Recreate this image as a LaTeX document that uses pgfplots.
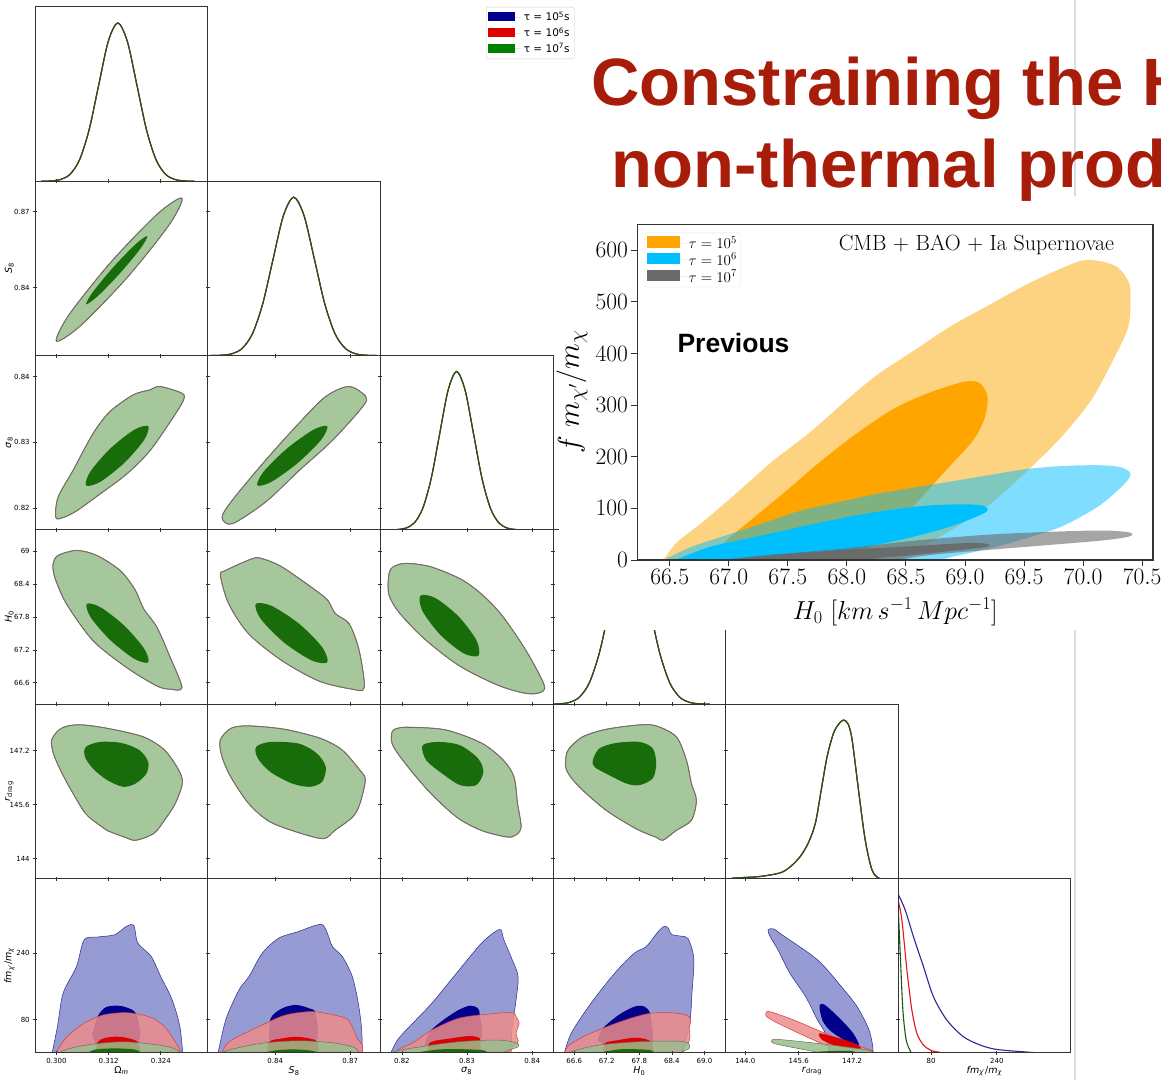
\RequirePackage{fix-cm}
\documentclass[border=0pt]{standalone}
\usepackage{fontspec}
\usepackage{pgfplots}
\usepackage{pgfplotstable}
\pgfplotsset{compat=1.18}
\newfontfamily\dvs{DejaVu Sans}
\newfontfamily\lib{Liberation Sans}
\definecolor{bout}{RGB}{145,150,210}
\definecolor{bline}{RGB}{40,40,140}
\definecolor{bin}{RGB}{0,0,140}
\definecolor{rout}{RGB}{238,140,140}
\definecolor{rline}{RGB}{215,60,60}
\definecolor{rin}{RGB}{220,0,0}
\definecolor{gout}{RGB}{155,190,143}
\definecolor{goutA}{RGB}{165,199,155}
\definecolor{gline}{RGB}{95,115,85}
\definecolor{gin}{RGB}{25,108,10}
\definecolor{lblue}{RGB}{40,40,150}
\definecolor{lred}{RGB}{230,20,20}
\definecolor{lgreen}{RGB}{20,95,20}
\definecolor{orng}{RGB}{255,165,0}
\definecolor{orngl}{RGB}{253,210,128}
\definecolor{dsb}{RGB}{0,191,255}
\definecolor{dgray}{RGB}{105,105,105}
\definecolor{titlered}{RGB}{168,28,10}
\newcommand\tickf{\dvs\fontsize{7}{8}\selectfont}
\newcommand\labf{\dvs\fontsize{9.5}{11}\selectfont}
\pgfplotsset{
 panel/.style={width=172.6pt,height=174.3pt,scale only axis,anchor=south west,
   axis line style={black!80,line width=1pt},
   tick style={black!80,line width=0.7pt}, major tick length=4pt, tick align=center,
   xtick pos=bottom, ytick pos=left, xticklabels={}, yticklabels={},
   tick label style={font=\tickf}, label style={font=\labf},
   xlabel style={at={(axis description cs:0.5,-0.104)},anchor=center},
   ylabel style={at={(axis description cs:-0.15,0.5)},anchor=center},
   axis on top, clip=true},
 diag/.style={panel,ymin=0,ymax=1.1},
 xOm/.style={xmin=0.2951,xmax=0.3348,xtick={0.300,0.312,0.324}},
 xS/.style={xmin=0.8130,xmax=0.8821,xtick={0.84,0.87}},
 xs/.style={xmin=0.8167,xmax=0.8432,xtick={0.82,0.83,0.84}},
 xH/.style={xmin=66.21,xmax=69.39,xtick={66.6,67.2,67.8,68.4,69.0}},
 xr/.style={xmin=143.41,xmax=148.58,xtick={144.0,145.6,147.2}},
 xf/.style={xmin=0,xmax=420,xtick={80,240}},
 yS/.style={ymin=0.8130,ymax=0.8821,ytick={0.84,0.87}},
 ys/.style={ymin=0.8167,ymax=0.8432,ytick={0.82,0.83,0.84}},
 yH/.style={ymin=66.21,ymax=69.39,ytick={66.6,67.2,67.8,68.4,69.0}},
 yr/.style={ymin=143.41,ymax=148.58,ytick={144.0,145.6,147.2}},
 yf/.style={ymin=0,ymax=420,ytick={80,240}},
 ln1/.style={color=lblue,line width=1.1pt,smooth},
 ln2/.style={color=lred,line width=1.1pt,smooth},
 ln3/.style={color=lgreen,line width=1.1pt,smooth},
 bO/.style={fill=bout,fill opacity=0.9,draw=bline,line width=1.4pt,draw opacity=0.7},
 rO/.style={fill=rout,fill opacity=0.85,draw=rline,line width=1.0pt,draw opacity=0.7},
 gOa/.style={fill=goutA,draw=gline,line width=0.6pt},
 bO5/.style={fill=bout,fill opacity=0.95,draw=bline,line width=0.5pt},
 rO5/.style={fill=rout,fill opacity=0.85,draw=rline,line width=0.5pt},
 gO5/.style={fill=gout,fill opacity=0.85,draw=gline,line width=0.5pt},
 bI/.style={fill=bin,draw=none},
 rI/.style={fill=rin,draw=none},
 gI/.style={fill=gin,draw=none},
}
\newcommand\tri[2]{%
 \addplot[bO,smooth cycle] table {#1};
 \addplot[bI,smooth cycle] table {#2};
 \addplot[rO,smooth cycle] table {#1};
 \addplot[rI,smooth cycle] table {#2};
 \addplot[gOa,smooth cycle] table {#1};
 \addplot[gI,smooth cycle] table {#2};}
\newcommand\one[1]{%
 \addplot[ln1,forget plot] table {#1};
 \addplot[ln2,forget plot] table {#1};
 \addplot[ln3,forget plot] table {#1};}
% ---------- 1D marginals
\pgfplotstableread{
x y
0.2965 0.0003
0.2987 0.0022
0.3009 0.0111
0.3031 0.0439
0.3053 0.1353
0.3075 0.3247
0.3097 0.6065
0.3119 0.8825
0.3141 1.0
0.3163 0.8825
0.3185 0.6065
0.3207 0.3247
0.3229 0.1353
0.3251 0.0439
0.3273 0.0111
0.3295 0.0022
0.3317 0.0003
}\dOm
\pgfplotstableread{
x y
0.8142 0.0003
0.81835 0.0022
0.8225 0.0111
0.82665 0.0439
0.8308 0.1353
0.83495 0.3247
0.8391 0.6065
0.84325 0.8825
0.8474 1.0
0.85155 0.8825
0.8557 0.6065
0.85985 0.3247
0.8640 0.1353
0.86815 0.0439
0.8723 0.0111
0.87645 0.0022
0.8806 0.0003
}\dS
\pgfplotstableread{
x y
0.8180 0.0003
0.8193 0.0022
0.8206 0.0111
0.8219 0.0439
0.8232 0.1353
0.8245 0.3247
0.8258 0.6065
0.8271 0.8825
0.8284 1.0
0.8297 0.8825
0.8310 0.6065
0.8323 0.3247
0.8336 0.1353
0.8349 0.0439
0.8362 0.0111
0.8375 0.0022
0.8388 0.0003
}\ds
\pgfplotstableread{
x y
66.14 0.0003
66.325 0.0022
66.51 0.0111
66.695 0.0439
66.88 0.1353
67.065 0.3247
67.25 0.6065
67.435 0.8825
67.62 1.0
67.805 0.8825
67.99 0.6065
68.175 0.3247
68.36 0.1353
68.545 0.0439
68.73 0.0111
68.915 0.0022
69.10 0.0003
}\dH
\pgfplotstableread{
x y
143.60 0.002
143.94 0.006
144.45 0.013
145.05 0.036
145.35 0.075
145.65 0.140
145.89 0.226
146.10 0.350
146.28 0.566
146.45 0.769
146.64 0.916
146.80 0.975
146.94 1.000
147.08 0.975
147.20 0.874
147.39 0.559
147.59 0.245
147.79 0.057
147.99 0.003
148.20 0.000
}\dr
% ---------- 2D contours (x y)
\pgfplotstableread{
x y
0.32882 0.87536
0.32594 0.86504
0.31632 0.84419
0.30558 0.82503
0.30002 0.81878
0.30290 0.82910
0.31252 0.84995
0.32326 0.86911
}\oSOm
\pgfplotstableread{
x y
0.32089 0.86041
0.31938 0.85561
0.31463 0.84569
0.30942 0.83646
0.30681 0.83333
0.30833 0.83813
0.31307 0.84805
0.31828 0.85728
}\iSOm
\pgfplotstableread{
x y
0.29988 0.81862
0.30041 0.82167
0.30386 0.82575
0.30846 0.83135
0.31230 0.83465
0.31766 0.83720
0.32150 0.83796
0.32380 0.83847
0.32880 0.83746
0.32916 0.83644
0.32686 0.83389
0.32150 0.82880
0.31615 0.82524
0.31000 0.82219
0.30465 0.81964
0.30156 0.81862
}\osOm
\pgfplotstableread{
x y
0.32111 0.83247
0.32014 0.83036
0.31554 0.82685
0.31002 0.82399
0.30681 0.82346
0.30778 0.82556
0.31238 0.82907
0.31790 0.83193
}\isOm
\pgfplotstableread{
x y
0.81880 0.81862
0.82281 0.82117
0.83618 0.82727
0.84951 0.83288
0.86020 0.83694
0.86952 0.83847
0.87621 0.83694
0.87485 0.83541
0.86284 0.83033
0.84951 0.82575
0.83618 0.82099
0.82281 0.81767
}\osS
\pgfplotstableread{
x y
0.86084 0.83247
0.85838 0.83040
0.84915 0.82691
0.83857 0.82403
0.83282 0.82346
0.83528 0.82552
0.84451 0.82901
0.85509 0.83189
}\isS
\pgfplotstableread{
x y
0.29926 68.770
0.30041 68.921
0.30465 69.012
0.30925 68.921
0.31460 68.647
0.31800 68.300
0.32000 67.950
0.32305 67.612
0.32610 67.065
0.32880 66.517
0.32610 66.488
0.32305 66.548
0.31615 66.882
0.30846 67.370
0.30235 68.040
0.29965 68.525
}\oHOm
\pgfplotstableread{
x y
0.32111 66.974
0.32016 67.224
0.31562 67.640
0.31014 67.978
0.30695 68.040
0.30790 67.790
0.31244 67.374
0.31792 67.036
}\iHOm
\pgfplotstableread{
x y
0.81816 68.556
0.82017 68.647
0.83081 68.861
0.83482 68.861
0.84282 68.707
0.85619 68.282
0.86100 68.100
0.86400 67.860
0.86952 67.675
0.87352 67.188
0.87553 66.517
0.87084 66.488
0.85751 66.636
0.84282 67.005
0.82949 67.492
0.82149 68.040
}\oHS
\pgfplotstableread{
x y
0.86084 66.974
0.85879 67.250
0.84955 67.677
0.83853 68.004
0.83218 68.040
0.83423 67.764
0.84347 67.337
0.85449 67.010
}\iHS
\pgfplotstableread{
x y
0.81793 68.464
0.81839 68.684
0.82039 68.775
0.82423 68.720
0.82883 68.501
0.83191 68.246
0.83498 67.881
0.83805 67.370
0.84035 66.913
0.84189 66.494
0.83959 66.403
0.83498 66.549
0.82883 66.914
0.82346 67.407
0.81962 67.881
0.81808 68.191
}\oHs
\pgfplotstableread{
x y
0.83175 67.096
0.83146 67.372
0.82873 67.807
0.82516 68.146
0.82285 68.191
0.82314 67.914
0.82587 67.479
0.82944 67.140
}\iHs
\pgfplotstableread{
x y
0.29892 147.51
0.30055 147.81
0.30262 147.93
0.30589 147.96
0.31164 147.86
0.31987 147.61
0.32479 147.22
0.32808 146.62
0.32889 146.23
0.32725 145.63
0.32479 145.14
0.32233 144.75
0.31822 144.55
0.31575 144.64
0.31164 144.84
0.31000 144.99
0.30672 145.34
0.30343 146.03
0.30097 146.62
0.29933 147.12
}\orOm
\pgfplotstableread{
x y
0.30672 147.31
0.31000 147.46
0.31493 147.43
0.31904 147.22
0.32109 146.87
0.32068 146.52
0.31822 146.23
0.31534 146.13
0.31164 146.33
0.30837 146.67
0.30655 147.02
}\irOm
\pgfplotstableread{
x y
0.81804 147.51
0.82233 147.86
0.82949 147.93
0.84378 147.83
0.85807 147.56
0.86668 147.22
0.87381 146.62
0.87597 146.33
0.87381 145.63
0.87096 145.24
0.86380 144.84
0.85952 144.60
0.85095 144.74
0.83806 145.09
0.82949 145.63
0.82233 146.42
0.81876 147.02
}\orS
\pgfplotstableread{
x y
0.83233 147.31
0.83806 147.46
0.84951 147.41
0.85667 147.12
0.86024 146.72
0.85879 146.28
0.85379 146.13
0.84666 146.23
0.83806 146.57
0.83306 146.97
}\irS
\pgfplotstableread{
x y
0.81853 147.76
0.81934 147.86
0.82126 147.89
0.82675 147.81
0.83223 147.42
0.83553 146.92
0.83718 146.42
0.83773 145.63
0.83827 144.94
0.83745 144.70
0.83607 144.65
0.83223 144.84
0.82839 145.24
0.82401 146.03
0.82017 146.92
0.81853 147.41
}\ors
\pgfplotstableread{
x y
0.82318 147.36
0.82565 147.46
0.82894 147.36
0.83169 146.97
0.83251 146.57
0.83141 146.18
0.82894 146.18
0.82621 146.52
0.82373 146.92
}\irs
\pgfplotstableread{
x y
66.453 147.02
66.514 147.27
66.759 147.61
67.190 147.83
67.803 147.96
68.111 147.93
68.479 147.61
68.664 146.92
68.756 146.23
68.848 145.73
68.756 145.14
68.479 144.84
68.233 144.55
68.111 144.64
67.743 144.89
67.190 145.44
66.698 146.13
66.464 146.62
}\orH
\pgfplotstableread{
x y
66.943 146.92
67.067 147.27
67.374 147.43
67.803 147.46
68.048 147.27
68.111 146.82
68.048 146.38
67.803 146.18
67.558 146.23
67.190 146.52
66.974 146.72
}\irH
\begin{document}
\begin{tikzpicture}[x=1pt,y=1pt]
\useasboundingbox (0,0) rectangle (1161,1080);
\fill[white] (0,0) rectangle (1161,1080);
\draw[black!14,line width=1.3pt] (1075,0) -- (1075,1080);
% ===== row 0
\begin{axis}[diag,at={(35.2pt,898.7pt)},xOm,ytick=\empty,
 legend image code/.code={\fill[#1,sharp corners] (0pt,-3.8pt) rectangle (27pt,5.2pt); \path (0pt,0pt) -- (33pt,0pt);},
 legend style={at={(2.612,1)},anchor=north west,font=\dvs\fontsize{10.5}{12}\selectfont,
   draw=black!20,rounded corners=1.5pt,inner sep=2pt,nodes={inner sep=2.6pt}},
 legend cell align=left]
\one{\dOm}
\addlegendimage{fill=bin,draw=none}\addlegendentry{τ = 10\textsuperscript{5}s}
\addlegendimage{fill=rin!95!red,draw=none}\addlegendentry{τ = 10\textsuperscript{6}s}
\addlegendimage{fill=green!50!black,draw=none}\addlegendentry{τ = 10\textsuperscript{7}s}
\end{axis}
% ===== row 1
\begin{axis}[panel,at={(35.2pt,724.4pt)},xOm,yS,yticklabels={0.84,0.87},ylabel={\textit{S}\textsubscript{8}}]
\tri{\oSOm}{\iSOm}
\end{axis}
\begin{axis}[diag,at={(207.8pt,724.4pt)},xS,ytick={0.4298,0.9074}]
\one{\dS}
\end{axis}
% ===== row 2
\begin{axis}[panel,at={(35.2pt,550.1pt)},xOm,ys,yticklabels={0.82,0.83,0.84},ylabel={\textit{σ}\textsubscript{8}}]
\tri{\osOm}{\isOm}
\end{axis}
\begin{axis}[panel,at={(207.8pt,550.1pt)},xS,ys]
\tri{\osS}{\isS}
\end{axis}
\begin{axis}[diag,at={(380.4pt,550.1pt)},xs,ytick={0.137,0.552,0.967}]
\one{\ds}
\end{axis}
% ===== row 3
\begin{axis}[panel,at={(35.2pt,375.8pt)},xOm,yH,yticklabels={66.6,67.2,67.8,68.4,69},ylabel={\textit{H}\textsubscript{0}}]
\tri{\oHOm}{\iHOm}
\end{axis}
\begin{axis}[panel,at={(207.8pt,375.8pt)},xS,yH]
\tri{\oHS}{\iHS}
\end{axis}
\begin{axis}[panel,at={(380.4pt,375.8pt)},xs,yH]
\tri{\oHs}{\iHs}
\end{axis}
\begin{axis}[diag,at={(553.0pt,375.8pt)},xH,ytick={0.135,0.342,0.550,0.758,0.965}]
\one{\dH}
\end{axis}
% ===== row 4
\begin{axis}[panel,at={(35.2pt,201.5pt)},xOm,yr,yticklabels={144,145.6,147.2},ylabel={\textit{r}\textsubscript{drag}}]
\tri{\orOm}{\irOm}
\end{axis}
\begin{axis}[panel,at={(207.8pt,201.5pt)},xS,yr]
\tri{\orS}{\irS}
\end{axis}
\begin{axis}[panel,at={(380.4pt,201.5pt)},xs,yr]
\tri{\ors}{\irs}
\end{axis}
\begin{axis}[panel,at={(553.0pt,201.5pt)},xH,yr]
\tri{\orH}{\irH}
\end{axis}
\begin{axis}[diag,at={(725.6pt,201.5pt)},xr,ytick={0.1255,0.466,0.806}]
\one{\dr}
\end{axis}
% ===== row 5
\begin{axis}[panel,at={(35.2pt,27.2pt)},xOm,yf,xticklabels={0.300,0.312,0.324},yticklabels={80,240},
 xlabel={Ω\textsubscript{\textit{m}}},ylabel={\textit{fm}\textsubscript{\textit{χ′}}/\textit{m}\textsubscript{\textit{χ}}}]
\addplot[bO5,smooth] coordinates {(0.29880,-10) (0.30021,62.9) (0.30152,143.6) (0.30460,207.9) (0.30637,272.4) (0.30945,279.0) (0.31341,284.6) (0.31605,304.7) (0.31780,306.4) (0.31870,264.5) (0.32178,232.1) (0.32397,183.8) (0.32661,127.4) (0.32838,62.9) (0.32910,-10)};
\addplot[bI,smooth] coordinates {(0.30816,43.4) (0.30945,87.0) (0.31115,108.8) (0.31341,113.6) (0.31575,110.5) (0.31826,95.3) (0.31920,43.4) (0.31736,-10) (0.31000,-10)};
\addplot[rO5,smooth] coordinates {(0.30021,-10) (0.30021,6.5) (0.30241,38.7) (0.30637,71.1) (0.31076,91.2) (0.31518,96.7) (0.31870,93.6) (0.32222,83.2) (0.32486,62.9) (0.32705,30.7) (0.32838,6.5) (0.32840,-10)};
\addplot[rI,smooth] coordinates {(0.30885,-10) (0.30945,25.9) (0.31115,35.6) (0.31341,38.7) (0.31575,36.8) (0.31870,25.9) (0.31920,-10)};
\addplot[gO5,smooth] coordinates {(0.30108,-10) (0.30108,2.4) (0.30460,14.5) (0.30989,22.7) (0.31518,26.6) (0.32045,22.7) (0.32574,14.5) (0.32838,2.4) (0.32838,-10)};
\addplot[gI,smooth] coordinates {(0.30637,-5) (0.30885,7.7) (0.31341,10.6) (0.31805,7.7) (0.32045,-5)};
\end{axis}
\begin{axis}[panel,at={(207.8pt,27.2pt)},xS,yf,xticklabels={0.84,0.87},xlabel={\textit{S}\textsubscript{8}}]
\addplot[bO5,smooth] coordinates {(0.81680,-10) (0.82017,79.1) (0.82549,151.6) (0.82949,183.8) (0.83482,240.3) (0.84150,276.6) (0.84951,292.6) (0.85483,304.7) (0.85883,308.8) (0.86084,288.7) (0.86284,256.3) (0.86684,232.1) (0.87084,183.8) (0.87325,119.4) (0.87461,54.9) (0.87485,-10)};
\addplot[bI,smooth] coordinates {(0.83750,30.7) (0.83818,83.2) (0.84282,107.3) (0.84819,115.3) (0.85351,107.3) (0.85619,95.3) (0.85671,30.7) (0.84951,-20)};
\addplot[rO5,smooth] coordinates {(0.81828,-10) (0.81948,10.6) (0.82249,30.7) (0.83618,71.1) (0.84418,91.2) (0.85351,99.2) (0.86020,95.3) (0.86820,83.2) (0.87084,62.9) (0.87285,34.8) (0.87485,18.6) (0.87485,-10)};
\addplot[rI,smooth] coordinates {(0.8367,-10) (0.83750,25.9) (0.84282,34.8) (0.84819,38.7) (0.85351,34.8) (0.85683,25.9) (0.8575,-10)};
\addplot[gO5,smooth] coordinates {(0.81948,-10) (0.81948,2.4) (0.82681,14.5) (0.83618,24.2) (0.84951,29.0) (0.86284,24.2) (0.87084,14.5) (0.87353,2.4) (0.87353,-10)};
\addplot[gI,smooth] coordinates {(0.83217,-5) (0.8395,5.3) (0.84683,8.2) (0.85431,5.3) (0.86020,-5)};
\end{axis}
\begin{axis}[panel,at={(380.4pt,27.2pt)},xs,yf,xticklabels={0.82,0.83,0.84},xlabel={\textit{σ}\textsubscript{8}}]
\addplot[bO5,smooth] coordinates {(0.81802,-10) (0.81931,30.7) (0.82166,71.1) (0.82460,119.4) (0.82754,175.7) (0.83048,232.1) (0.83224,264.5) (0.83401,288.7) (0.83518,296.7) (0.83565,272.5) (0.83694,224.1) (0.83784,183.8) (0.83753,127.4) (0.83694,62.9) (0.83666,-10)};
\addplot[bI,smooth] coordinates {(0.82346,16.2) (0.8243,50.9) (0.82636,79.1) (0.82871,103.3) (0.83048,113.6) (0.83166,107.3) (0.83195,91.2) (0.83206,30.7) (0.82730,-20)};
\addplot[rO5,smooth] coordinates {(0.81931,-10) (0.81931,6.5) (0.82166,24.2) (0.82460,54.9) (0.82871,83.2) (0.83343,93.6) (0.83694,96.7) (0.83753,87.0) (0.8380,71.1) (0.83753,46.9) (0.83784,26.6) (0.83694,14.5) (0.83665,-10)};
\addplot[rI,smooth] coordinates {(0.8240,-10) (0.8243,24.2) (0.82754,34.8) (0.83048,40.4) (0.83195,34.8) (0.83206,18.6) (0.8322,-10)};
\addplot[gO5,smooth] coordinates {(0.81873,-10) (0.81873,2.4) (0.82284,14.5) (0.82871,26.6) (0.83459,30.7) (0.83753,24.2) (0.83784,14.5) (0.83578,2.4) (0.83578,-10)};
\addplot[gI,smooth] coordinates {(0.82049,-5) (0.82578,8.2) (0.83224,6.5) (0.83343,-5)};
\end{axis}
\begin{axis}[panel,at={(553.0pt,27.2pt)},xH,yf,xticklabels={66.6,67.2,67.8,68.4,69.0},xlabel={\textit{H}\textsubscript{0}}]
\addplot[bO5,smooth] coordinates {(66.400,-10) (66.545,46.9) (66.910,119.4) (67.347,192.0) (67.711,240.3) (67.930,256.3) (68.150,292.6) (68.260,304.7) (68.332,300.8) (68.406,284.6) (68.660,279.0) (68.734,264.5) (68.807,224.1) (68.770,143.6) (68.734,79.1) (68.588,-10)};
\addplot[bI,smooth] coordinates {(67.030,30.7) (67.129,58.9) (67.420,91.2) (67.711,111.3) (67.895,111.3) (68.004,91.2) (68.024,18.6) (67.527,-20)};
\addplot[rO5,smooth] coordinates {(66.422,-10) (66.472,14.5) (66.764,38.7) (67.201,62.9) (67.639,83.2) (68.004,95.3) (68.369,96.7) (68.660,91.2) (68.748,79.1) (68.719,59.0) (68.734,38.7) (68.697,22.7) (68.588,6.5) (68.577,-10)};
\addplot[rI,smooth] coordinates {(67.13,-10) (67.164,22.7) (67.420,30.7) (67.711,36.3) (67.930,32.4) (68.041,22.7) (68.06,-10)};
\addplot[gO5,smooth] coordinates {(66.545,-10) (66.545,2.4) (67.055,18.6) (67.785,26.6) (68.443,28.3) (68.697,24.2) (68.719,10.6) (68.588,2.4) (68.588,-10)};
\addplot[gI,smooth] coordinates {(66.910,-5) (67.420,8.2) (68.004,6.5) (68.078,-5)};
\end{axis}
\begin{axis}[panel,at={(725.6pt,27.2pt)},xr,yf,xticklabels={144.0,145.6,147.2},xlabel={\textit{r}\textsubscript{drag}}]
\addplot[bO5,smooth cycle] coordinates {(144.680,296.7) (144.860,298.4) (145.096,284.6) (146.162,224.1) (146.875,159.6) (147.348,111.2) (147.705,54.9) (147.825,6.5) (147.705,-10) (146.639,-10) (146.399,46.9) (146.162,79.1) (145.806,135.4) (145.333,192.0) (144.976,248.3) (144.740,280.5)};
\addplot[bI,smooth cycle] coordinates {(146.222,114.4) (146.399,114.4) (146.875,79.1) (147.232,46.9) (147.408,18.6) (147.232,18.6) (146.875,34.8) (146.522,54.9) (146.306,79.1)};
\addplot[rO5,smooth cycle] coordinates {(144.620,95.3) (144.740,99.2) (145.453,79.1) (146.399,46.9) (147.348,18.6) (147.825,2.4) (147.348,-3) (146.639,10.6) (145.935,34.8) (144.976,71.1) (144.644,87.0)};
\addplot[rI,smooth cycle] coordinates {(146.222,46.9) (146.639,38.7) (147.232,24.2) (147.468,10.6) (147.115,10.6) (146.639,18.6) (146.282,32.4)};
\addplot[gO5,smooth cycle] coordinates {(144.800,30.7) (144.976,32.4) (146.162,22.7) (147.348,10.6) (147.825,2.4) (147.115,-3) (146.522,-3) (145.569,10.6) (144.860,22.7)};
\addplot[gI,smooth cycle] coordinates {(146.162,2.4) (147.115,4.8) (147.348,-3) (146.399,-3)};
\end{axis}
\begin{axis}[diag,at={(898.2pt,27.2pt)},xf,xticklabels={80,240},ytick={0.2095,0.6286},
 xlabel={\textit{fm}\textsubscript{\textit{χ′}}/\textit{m}\textsubscript{\textit{χ}}}]
\addplot[ln1] coordinates {(0,1.0) (17.0,0.901) (37.2,0.732) (61.6,0.543) (85.9,0.353) (118.5,0.206) (158.9,0.101) (199.5,0.049) (240.1,0.021) (317.0,0.004) (340,0.0)};
\addplot[ln2] coordinates {(0,0.96) (9.0,0.837) (21.2,0.522) (33.3,0.269) (45.5,0.122) (61.6,0.049) (80,0.015) (102.2,0.003)};
\addplot[ln3] coordinates {(0,0.92) (4.9,0.627) (11.4,0.269) (19.5,0.080) (30.9,0.004)};
\end{axis}
% ===== inset
\fill[white] (559,450) rectangle (1161,884);
\begin{axis}[at={(637.4pt,520pt)},anchor=south west,width=515.6pt,height=335.5pt,scale only axis,
 xmin=66.226,xmax=70.592,ymin=0,ymax=650,
 xtick={66.5,67.0,67.5,68.0,68.5,69.0,69.5,70.0,70.5},ytick={0,100,200,300,400,500,600},
 tick align=outside,xtick pos=bottom,ytick pos=left,major tick length=6pt,
 tick style={black!80,line width=1pt},axis line style={black!80,line width=1.3pt},
 tick label style={font=\fontsize{23.5}{23.5}\selectfont},
 xticklabel style={/pgf/number format/.cd,fixed,fixed zerofill,precision=1},
 xlabel={$H_0\ [km\,s^{-1}\,Mpc^{-1}]$},
 ylabel={$f\ m_{\chi'}/m_\chi$},
 xlabel style={font=\fontsize{26}{26}\selectfont,at={(axis description cs:0.5,-0.155)},anchor=center},
 ylabel style={font=\fontsize{30}{30}\selectfont,at={(axis description cs:-0.127,0.5)},anchor=center},
 axis on top,clip=true,
 legend image code/.code={\fill[#1,sharp corners] (0pt,-4.5pt) rectangle (33pt,7pt); \path (0pt,0pt) -- (40pt,0pt);},
 legend style={at={(0.0144,0.9756)},anchor=north west,font=\fontsize{15}{15}\selectfont,
   draw=black!12,rounded corners=2pt,inner sep=2pt,nodes={inner sep=1.5pt}},
 legend cell align=left]
\addplot[fill=orngl,draw=none,smooth,forget plot] coordinates {(66.43,-6) (66.556,33.2) (66.776,72.8) (67.058,128.2) (67.372,191.6) (67.686,247.0) (68.000,310.3) (68.251,357.8) (68.564,405.3) (68.878,452.8) (69.192,492.4) (69.505,531.9) (69.725,555.7) (69.976,579.4) (70.133,579.4) (70.290,567.6) (70.384,539.9) (70.400,516.1) (70.384,452.8) (70.258,389.5) (70.070,310.3) (69.819,239.1) (69.505,167.8) (69.192,104.5) (68.878,57.0) (68.564,17.4) (68.407,-6)};
\addplot[fill=orng,draw=none,smooth,forget plot] coordinates {(66.776,-6) (66.996,41.2) (67.247,88.7) (67.498,136.2) (67.780,191.6) (68.094,247.0) (68.407,294.5) (68.721,326.1) (69.004,345.9) (69.129,342.0) (69.192,314.3) (69.160,270.7) (69.066,231.1) (68.878,183.6) (68.721,144.1) (68.564,104.5) (68.407,64.9) (68.188,25.3) (68.000,-6)};
\addplot[fill=dsb,fill opacity=0.5,draw=none,smooth,forget plot] coordinates {(66.431,-2) (66.682,25.3) (66.996,49.1) (67.309,72.8) (67.623,96.6) (67.937,112.4) (68.251,128.2) (68.564,140.1) (68.878,152.0) (69.192,163.9) (69.505,175.7) (69.819,182.1) (70.133,183.6) (70.321,179.7) (70.400,167.8) (70.353,148.0) (70.133,104.5) (69.819,64.9) (69.505,41.2) (69.192,21.4) (68.878,5.5) (68.721,-5)};
\addplot[fill=dsb,draw=none,smooth,forget plot] coordinates {(66.525,-2) (66.839,25.3) (67.153,41.2) (67.466,57.0) (67.780,72.8) (68.094,87.1) (68.407,98.2) (68.721,106.1) (69.035,107.7) (69.160,104.5) (69.192,96.6) (69.129,87.1) (68.878,64.9) (68.564,45.1) (68.251,29.3) (67.937,17.4) (67.623,7.9) (67.309,-2)};
\addplot[fill=dgray,fill opacity=0.6,draw=none,smooth,forget plot] coordinates {(66.839,-2) (67.309,9.5) (67.937,21.4) (68.564,37.2) (69.192,49.1) (69.819,55.4) (70.196,57.0) (70.400,53.0) (70.384,45.1) (70.133,37.2) (69.505,25.3) (68.878,13.5) (68.564,5.5) (68.407,-5)};
\addplot[fill=dgray,fill opacity=0.9,draw=none,smooth,forget plot] coordinates {(66.933,-2) (67.309,7.9) (67.937,19.0) (68.564,26.9) (69.035,33.2) (69.192,30.9) (69.176,25.3) (68.878,17.4) (68.564,9.5) (68.251,3.2) (68.094,-5)};
\addlegendimage{fill=orng,draw=none}\addlegendentry{$\tau = 10^5$}
\addlegendimage{fill=dsb,draw=none}\addlegendentry{$\tau = 10^6$}
\addlegendimage{fill=dgray,draw=none}\addlegendentry{$\tau = 10^7$}
\node[font=\fontsize{22}{22}\selectfont,anchor=center] at (axis description cs:0.6575,0.939) {CMB $+$ BAO $+$ Ia Supernovae};
\node[font=\lib\bfseries\fontsize{26.5}{26.5}\selectfont,anchor=center] at (axis description cs:0.1864,0.6468) {Previous};
\end{axis}
% ===== title
\node[anchor=base west,inner sep=0pt,text=titlered,font=\lib\bfseries\fontsize{67}{67}\selectfont] at (591,974) {Constraining the H};
\node[anchor=base west,inner sep=0pt,text=titlered,font=\lib\bfseries\fontsize{67}{67}\selectfont] at (611.5,892.2) {non-thermal prod};
\end{tikzpicture}
\end{document}
